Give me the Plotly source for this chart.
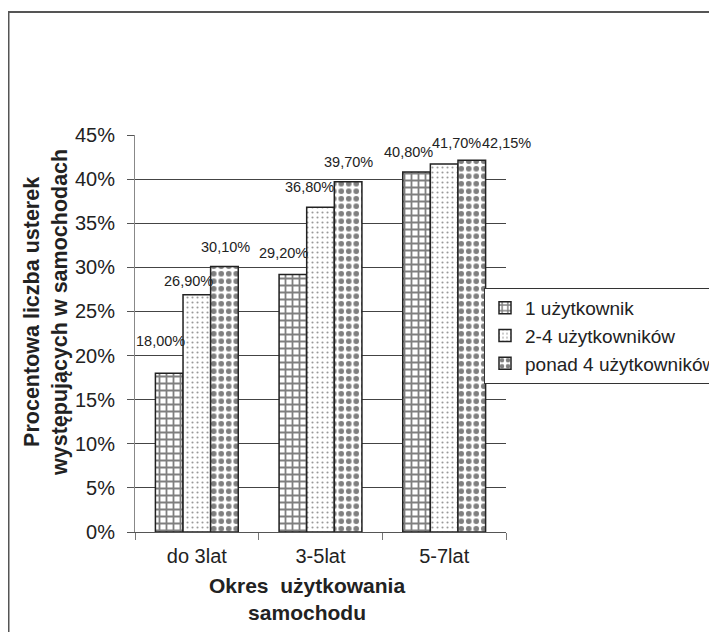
import plotly.graph_objects as go

categories = ["do 3lat", "3-5lat", "5-7lat"]
series_names = ["1 użytkownik", "2-4 użytkowników", "ponad 4 użytkowników"]
s1 = [18.00, 29.20, 40.80]
s2 = [26.90, 36.80, 41.70]
s3 = [30.10, 39.70, 42.15]
y_ticks = [0, 5, 10, 15, 20, 25, 30, 35, 40, 45]
y_tick_labels = ["0%", "5%", "10%", "15%", "20%", "25%", "30%", "35%", "40%", "45%"]

series = [s1, s2, s3]

FONT = "Liberation Sans, Arial, sans-serif"
# page body has an 8px margin, so the figure is 8px smaller than the window
W, H = 709, 624
L, R, T, B = 127, 211, 127, 100
plot_w = W - L - R
plot_h = H - T - B

patterns = [
    dict(shape="+", size=7, solidity=0.45, fgcolor="#000000", bgcolor="white", fillmode="overlay"),
    dict(shape=".", size=5, solidity=0.14, fgcolor="#333333", bgcolor="white", fillmode="overlay"),
    dict(shape=".", size=7.5, solidity=0.45, fgcolor="#000000", bgcolor="white", fillmode="overlay"),
]

fig = go.Figure()
for name, vals, pat in zip(series_names, series, patterns):
    fig.add_trace(go.Bar(
        x=categories, y=vals, name=name,
        marker=dict(color="white", pattern=pat, line=dict(color="#222222", width=1.5)),
    ))

bargap = 0.33
cat_px = plot_w / len(categories)
bar_px = cat_px * (1 - bargap) / 3

# label offsets (style): dx, dy in px relative to bar top center
label_dx = [[-9, -9, -8], [-8, -11, 12], [1, 0, 35]]
label_dy = [[22, 11, 10], [4, 10, 11], [9, 10, 7]]

annotations = []
for si, vals in enumerate(series):
    for ci, v in enumerate(vals):
        txt = f"{v:.2f}%".replace(".", ",")
        annotations.append(dict(
            x=categories[ci], y=v, xref="x", yref="y", text=txt, showarrow=False,
            xshift=(si - 1) * bar_px + label_dx[si][ci], yshift=label_dy[si][ci],
            yanchor="bottom", xanchor="center",
            font=dict(family=FONT, size=14.5, color="#222222"),
        ))

# axis titles
annotations.append(dict(
    xref="paper", yref="paper", x=(299 - L) / plot_w, y=(H - B - 591) / plot_h,
    text="<b>Okres \u00a0użytkowania<br>samochodu</b>", showarrow=False,
    xanchor="center", yanchor="middle",
    font=dict(family=FONT, size=21, color="#222222"),
))
annotations.append(dict(
    xref="paper", yref="paper", x=(38 - L) / plot_w, y=(H - B - 305) / plot_h,
    text="<b>Procentowa liczba usterek<br>występujących w samochodach</b>", showarrow=False,
    xanchor="center", yanchor="middle", textangle=-90,
    font=dict(family=FONT, size=21.5, color="#222222"),
))

bx = (0.5 - L) / plot_w
by = (H - B - 4) / plot_h

fig.update_layout(
    width=W, height=H,
    margin=dict(l=L, r=R, t=T, b=B, autoexpand=False),
    paper_bgcolor="white", plot_bgcolor="white",
    barmode="group", bargap=bargap, bargroupgap=0,
    font=dict(family=FONT, size=20, color="#222222"),
    showlegend=True,
    legend=dict(
        x=(476 - L) / plot_w, y=(H - B - 280) / plot_h, xanchor="left", yanchor="top",
        bordercolor="#333333", borderwidth=1, bgcolor="white",
        font=dict(family=FONT, size=19, color="#222222"),
        itemwidth=30, tracegroupgap=0,
    ),
    annotations=annotations,
    shapes=[dict(type="rect", xref="paper", yref="paper", x0=bx, x1=2.0, y0=-1.0, y1=by,
                 line=dict(color="#555555", width=2), fillcolor="rgba(0,0,0,0)")],
)
fig.update_xaxes(
    range=[-0.5, len(categories) - 0.5], autorange=False,
    showline=True, linecolor="#555555", linewidth=1,
    ticks="outside", tickson="boundaries", ticklen=7, tickcolor="#777777",
    tickfont=dict(family=FONT, size=20, color="#222222"),
    ticklabelstandoff=6,
    showgrid=False,
)
fig.update_yaxes(
    range=[0, 45], autorange=False, tickvals=y_ticks, ticktext=y_tick_labels,
    showline=True, linecolor="#888888", linewidth=1,
    ticks="outside", ticklen=7, tickcolor="#555555",
    showgrid=True, gridcolor="#444444", gridwidth=1,
    tickfont=dict(family=FONT, size=20, color="#222222"),
    ticklabelstandoff=8,
    zeroline=False,
)

fig.write_html("out.html")
